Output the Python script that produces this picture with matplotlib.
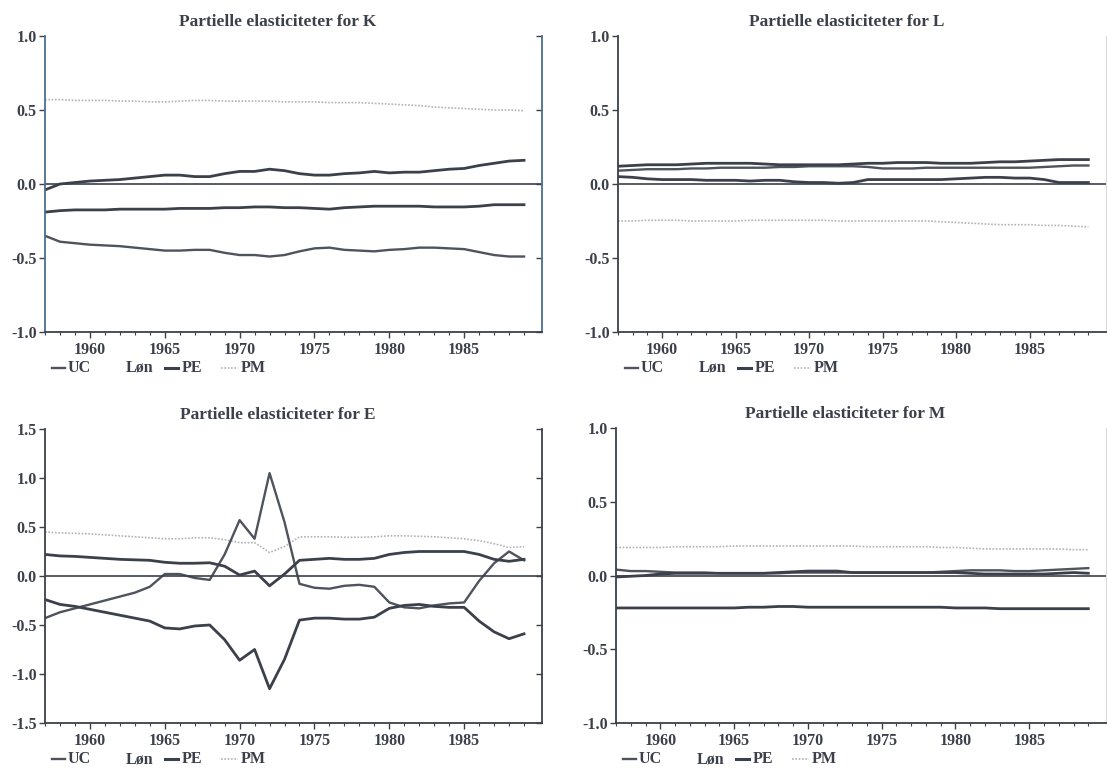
import numpy as np
import matplotlib
matplotlib.use("Agg")
import matplotlib.pyplot as plt

plt.rcParams['font.family'] = ['Liberation Serif', 'DejaVu Serif']
plt.rcParams['font.weight'] = 'bold'
plt.rcParams['axes.titleweight'] = 'bold'
plt.rcParams['axes.unicode_minus'] = False

# -------------------------
# data: partial elasticities 1957-1989
# -------------------------
years = list(range(1957, 1990))

k_uc = [-0.35, -0.39, -0.40, -0.41, -0.415, -0.42, -0.43, -0.44, -0.45, -0.45, -0.445,
        -0.445, -0.465, -0.48, -0.48, -0.49, -0.48, -0.455, -0.435, -0.43, -0.445, -0.45,
        -0.455, -0.445, -0.44, -0.43, -0.43, -0.435, -0.44, -0.46, -0.48, -0.49, -0.49]
k_lon = [-0.04, 0.0, 0.01, 0.02, 0.025, 0.03, 0.04, 0.05, 0.06, 0.06, 0.05, 0.05, 0.07,
         0.085, 0.085, 0.10, 0.09, 0.07, 0.06, 0.06, 0.07, 0.075, 0.085, 0.075, 0.08, 0.08,
         0.09, 0.10, 0.105, 0.125, 0.14, 0.155, 0.16]
k_pe = [-0.19, -0.18, -0.175, -0.175, -0.175, -0.17, -0.17, -0.17, -0.17, -0.165, -0.165,
        -0.165, -0.16, -0.16, -0.155, -0.155, -0.16, -0.16, -0.165, -0.17, -0.16, -0.155,
        -0.15, -0.15, -0.15, -0.15, -0.155, -0.155, -0.155, -0.15, -0.14, -0.14, -0.14]
k_pm = [0.57, 0.57, 0.565, 0.565, 0.565, 0.56, 0.56, 0.555, 0.555, 0.56, 0.565, 0.565, 0.56,
        0.56, 0.56, 0.56, 0.555, 0.555, 0.555, 0.55, 0.55, 0.55, 0.545, 0.54, 0.535, 0.53,
        0.52, 0.515, 0.51, 0.505, 0.5, 0.5, 0.495]

l_uc = [0.09, 0.095, 0.10, 0.10, 0.10, 0.105, 0.105, 0.11, 0.11, 0.11, 0.11, 0.115, 0.115,
        0.12, 0.12, 0.12, 0.12, 0.115, 0.105, 0.105, 0.105, 0.11, 0.11, 0.11, 0.11, 0.11,
        0.11, 0.11, 0.11, 0.115, 0.12, 0.125, 0.125]
l_lon = [0.12, 0.125, 0.13, 0.13, 0.13, 0.135, 0.14, 0.14, 0.14, 0.14, 0.135, 0.13, 0.13,
         0.13, 0.13, 0.13, 0.135, 0.14, 0.14, 0.145, 0.145, 0.145, 0.14, 0.14, 0.14, 0.145,
         0.15, 0.15, 0.155, 0.16, 0.165, 0.165, 0.165]
l_pe = [0.05, 0.045, 0.035, 0.03, 0.03, 0.03, 0.025, 0.025, 0.025, 0.02, 0.025, 0.025, 0.015,
        0.01, 0.01, 0.005, 0.01, 0.03, 0.03, 0.03, 0.03, 0.03, 0.03, 0.035, 0.04, 0.045,
        0.045, 0.04, 0.04, 0.03, 0.01, 0.01, 0.01]
l_pm = [-0.25, -0.25, -0.245, -0.245, -0.245, -0.25, -0.25, -0.25, -0.25, -0.245, -0.245,
        -0.245, -0.245, -0.245, -0.245, -0.25, -0.25, -0.25, -0.25, -0.25, -0.25, -0.25,
        -0.255, -0.26, -0.265, -0.27, -0.275, -0.275, -0.275, -0.28, -0.28, -0.285, -0.29]

e_uc = [-0.43, -0.37, -0.33, -0.29, -0.25, -0.21, -0.17, -0.11, 0.02, 0.02, -0.02, -0.04,
        0.22, 0.57, 0.38, 1.05, 0.55, -0.08, -0.12, -0.13, -0.10, -0.09, -0.11, -0.27,
        -0.32, -0.33, -0.30, -0.28, -0.27, -0.05, 0.13, 0.25, 0.16]
e_lon = [0.22, 0.205, 0.20, 0.19, 0.18, 0.17, 0.165, 0.16, 0.14, 0.13, 0.13, 0.135, 0.10,
         0.01, 0.05, -0.10, 0.02, 0.16, 0.17, 0.18, 0.17, 0.17, 0.18, 0.22, 0.24, 0.25,
         0.25, 0.25, 0.25, 0.22, 0.17, 0.15, 0.17]
e_pe = [-0.24, -0.29, -0.31, -0.34, -0.37, -0.40, -0.43, -0.46, -0.53, -0.54, -0.51, -0.50,
        -0.65, -0.86, -0.75, -1.15, -0.85, -0.45, -0.43, -0.43, -0.44, -0.44, -0.42, -0.33,
        -0.30, -0.29, -0.31, -0.32, -0.32, -0.46, -0.57, -0.64, -0.59]
e_pm = [0.45, 0.44, 0.435, 0.43, 0.42, 0.41, 0.40, 0.39, 0.38, 0.38, 0.39, 0.39, 0.37, 0.34,
        0.34, 0.24, 0.30, 0.40, 0.40, 0.40, 0.395, 0.395, 0.40, 0.41, 0.41, 0.405, 0.40,
        0.39, 0.38, 0.36, 0.33, 0.29, 0.30]

m_uc = [0.04, 0.03, 0.03, 0.025, 0.02, 0.02, 0.02, 0.015, 0.015, 0.015, 0.015, 0.015, 0.02,
        0.02, 0.02, 0.02, 0.02, 0.02, 0.02, 0.02, 0.02, 0.02, 0.025, 0.03, 0.035, 0.035,
        0.035, 0.03, 0.03, 0.035, 0.04, 0.045, 0.05]
m_lon = [-0.01, -0.005, 0.0, 0.01, 0.015, 0.015, 0.015, 0.015, 0.015, 0.015, 0.015, 0.02,
         0.025, 0.03, 0.03, 0.03, 0.02, 0.02, 0.02, 0.02, 0.02, 0.02, 0.02, 0.02, 0.015,
         0.01, 0.01, 0.01, 0.01, 0.01, 0.015, 0.02, 0.015]
m_pe = [-0.22, -0.22, -0.22, -0.22, -0.22, -0.22, -0.22, -0.22, -0.22, -0.215, -0.215, -0.21,
        -0.21, -0.215, -0.215, -0.215, -0.215, -0.215, -0.215, -0.215, -0.215, -0.215,
        -0.215, -0.22, -0.22, -0.22, -0.225, -0.225, -0.225, -0.225, -0.225, -0.225, -0.225]
m_pm = [0.19, 0.19, 0.19, 0.19, 0.195, 0.195, 0.195, 0.195, 0.2, 0.2, 0.2, 0.2, 0.2, 0.2,
        0.2, 0.2, 0.2, 0.195, 0.195, 0.195, 0.195, 0.195, 0.19, 0.19, 0.185, 0.18, 0.18,
        0.18, 0.18, 0.18, 0.18, 0.175, 0.175]

year_ticks = [1960, 1965, 1970, 1975, 1980, 1985]
series_names = ['UC', 'Løn', 'PE', 'PM']

DARK = '#3c404a'
UC_COL = '#4f535c'
PM_COL = '#b0b3ba'

W, H = 1107, 769
fig = plt.figure(figsize=(W / 100, H / 100), dpi=100)


def make_axes(left, top, right, bottom):
    # pixel box -> figure fraction
    ax = fig.add_axes([left / W, 1 - bottom / H, (right - left) / W, (bottom - top) / H])
    ax.px_w = right - left
    ax.px_h = bottom - top
    return ax


def key_row(ax, y_px):
    # legend row under the year labels, laid out in pixel offsets from the left spine
    fx = lambda px: px / ax.px_w
    fy = -y_px / ax.px_h
    styles = [
        dict(color=UC_COL, lw=1.7),
        None,  # no key line for Løn
        dict(color=DARK, lw=2.2),
        dict(color=PM_COL, lw=1.2, linestyle=(0, (1, 1))),
    ]
    line_spans = [(7, 20), None, (120, 133), (176, 193)]
    text_x = [23, 81, 137, 196]
    for name, st, span, tx in zip(series_names, styles, line_spans, text_x):
        if st is not None:
            ax.plot([fx(span[0]), fx(span[1])], [fy, fy], transform=ax.transAxes,
                    clip_on=False, **st)
        ax.text(fx(tx), fy, name, transform=ax.transAxes, ha='left', va='center',
                fontsize=11.5, color=DARK)


def panel(ax, letter, uc, lon, pe, pm, ylim, yticks, right_spine, spine_col=DARK):
    ax.plot(years, pm, color=PM_COL, lw=1.2, linestyle=(0, (1, 1)))
    ax.plot(years, uc, color=UC_COL, lw=1.7)
    ax.plot(years, lon, color=DARK, lw=2.0)
    ax.plot(years, pe, color=DARK, lw=2.0)
    ax.axhline(0, color=DARK, lw=1.2)

    ax.set_xlim(1957, 1990.2)
    ax.set_ylim(*ylim)
    ax.set_yticks(yticks)
    ax.set_yticklabels(['%.1f' % v for v in yticks])
    ax.set_xticks(year_ticks)
    ax.set_xticks(years, minor=True)
    ax.tick_params(axis='both', labelsize=11.5, colors=DARK, width=1, length=4)
    ax.tick_params(axis='x', which='minor', length=2.5, width=0.8, colors=DARK)
    ax.tick_params(axis='y', pad=2)

    ax.spines['top'].set_visible(False)
    ax.spines['bottom'].set_color(DARK)
    ax.spines['bottom'].set_linewidth(1.3)
    ax.spines['left'].set_color(spine_col)
    ax.spines['left'].set_linewidth(1.3)
    if right_spine:
        ax.spines['right'].set_color(spine_col)
        ax.spines['right'].set_linewidth(1.3)
        sec = ax.secondary_yaxis('right')
        sec.set_yticks(yticks)
        sec.tick_params(direction='in', length=4, width=1, labelright=False, colors=DARK)
        sec.spines['right'].set_visible(False)
    else:
        ax.spines['right'].set_color('#d8d8d8')
        ax.spines['right'].set_linewidth(0.8)

    ax.set_title('Partielle elasticiteter for ' + letter, fontsize=12.5, color=DARK,
                 x=0.468, y=1.035, pad=0)
    key_row(ax, 36)


ticks_1 = [-1.0, -0.5, 0.0, 0.5, 1.0]
ticks_15 = [-1.5, -1.0, -0.5, 0.0, 0.5, 1.0, 1.5]

ax_k = make_axes(45, 36, 542, 332)
panel(ax_k, 'K', k_uc, k_lon, k_pe, k_pm, (-1.0, 1.0), ticks_1, True, spine_col='#4a6f8f')

ax_l = make_axes(618, 36, 1106, 332)
panel(ax_l, 'L', l_uc, l_lon, l_pe, l_pm, (-1.0, 1.0), ticks_1, False)

ax_e = make_axes(45, 429, 542, 723)
panel(ax_e, 'E', e_uc, e_lon, e_pe, e_pm, (-1.5, 1.5), ticks_15, True)

ax_m = make_axes(616, 428, 1106, 723)
panel(ax_m, 'M', m_uc, m_lon, m_pe, m_pm, (-1.0, 1.0), ticks_1, False)

fig.savefig('out.png', dpi=100)
